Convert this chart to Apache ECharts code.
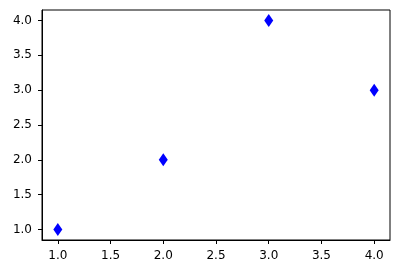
<!DOCTYPE html>
<html><head><meta charset="utf-8">
<script src="https://cdn.jsdelivr.net/npm/echarts@6/dist/echarts.min.js"></script>
<style>html,body{margin:0;padding:0;background:#fff}#c{width:400px;height:274px}</style>
</head><body><div id="c"></div>
<script>
var xValues = [1, 2, 3, 4];
var yValues = [1, 2, 4, 3];
var xTicks = [1.0, 1.5, 2.0, 2.5, 3.0, 3.5, 4.0];
var yTicks = [1.0, 1.5, 2.0, 2.5, 3.0, 3.5, 4.0];

var chart = echarts.init(document.getElementById('c'), null, {renderer: 'canvas'});
var font = {fontFamily: 'DejaVu Sans', fontSize: 12, color: '#000'};
chart.setOption({
  animation: false,
  grid: {left: 42, top: 10, width: 348, height: 230, show: true, borderColor: '#000', borderWidth: 1, backgroundColor: 'transparent'},
  xAxis: {
    type: 'value', min: 0.85, max: 4.15,
    splitLine: {show: false},
    axisLine: {show: true, lineStyle: {color: '#000', width: 1}},
    axisTick: {show: true, inside: false, length: 4, lineStyle: {color: '#000'}, customValues: xTicks},
    axisLabel: Object.assign({margin: 10, customValues: xTicks, formatter: function(v){return v.toFixed(1);}}, font)
  },
  yAxis: {
    type: 'value', min: 0.85, max: 4.15,
    splitLine: {show: false},
    axisLine: {show: true, lineStyle: {color: '#000', width: 1}},
    axisTick: {show: true, inside: false, length: 4, lineStyle: {color: '#000'}, customValues: yTicks},
    axisLabel: Object.assign({margin: 10, customValues: yTicks, formatter: function(v){return v.toFixed(1);}}, font)
  },
  series: [{
    type: 'scatter',
    symbol: 'diamond',
    symbolSize: [9, 13],
    itemStyle: {color: '#0000ff', opacity: 1},
    data: xValues.map(function(x, i){return [x, yValues[i]];})
  }]
});
</script></body></html>
